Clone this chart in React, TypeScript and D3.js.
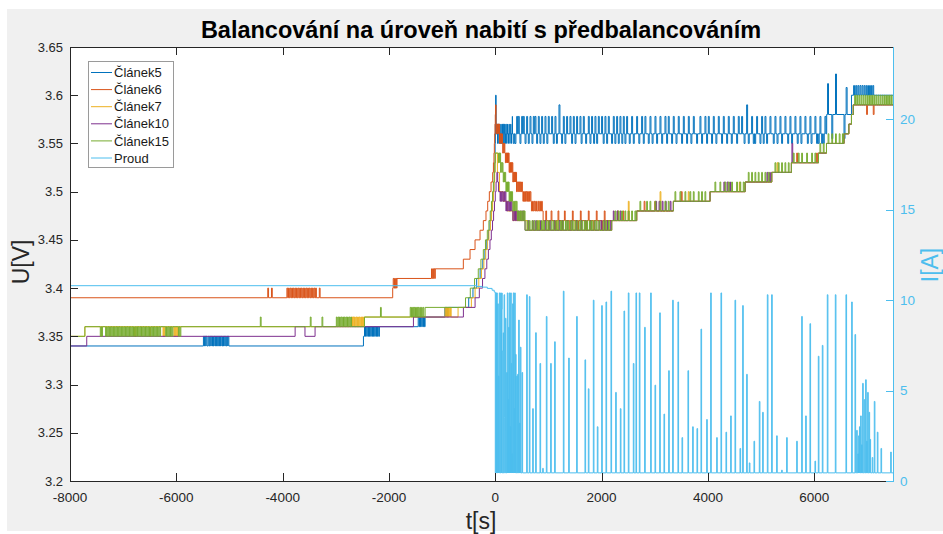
import React from "react"
import * as d3 from "d3"

type Pt = [number, number]
type Group = { v: number; t: number[] }

// ---------- data ----------
const seriesNames = ["Článek5", "Článek6", "Článek7", "Článek10", "Článek15", "Proud"]
const seriesColors = ["#0072BD", "#D95319", "#EDB120", "#7E2F8E", "#77AC30", "#4DBEEE"]

const xTicks = [-8000, -6000, -4000, -2000, 0, 2000, 4000, 6000]
const uTicks = [3.2, 3.25, 3.3, 3.35, 3.4, 3.45, 3.5, 3.55, 3.6, 3.65]
const iTicks = [0, 5, 10, 15, 20]

// Článek5 - base levels [t, U]
const c5Steps: Pt[] = [
  [-8000, 3.34], [-2480, 3.35], [-2180, 3.36], [-1320, 3.37], [-880, 3.38], [-500, 3.39], [-420, 3.40],
  [-350, 3.41], [-285, 3.42], [-235, 3.43], [-195, 3.44], [-160, 3.45], [-128, 3.46], [-100, 3.47],
  [-77, 3.48], [-57, 3.49], [-40, 3.50], [-27, 3.51], [-16, 3.52], [-8, 3.53], [-3, 3.55], [2, 3.57],
  [6, 3.60], [16, 3.56], [6234, 3.58], [6700, 3.60], [7500, 3.60],
]
// short excursions: level v reached at times t
const c5Spikes: Group[] = [
  { v: 3.35, t: [-5490, -5465, -5440, -5400, -5370, -5345, -5320, -5290, -5265, -5240, -5210, -5185, -5160, -5130, -5105, -5080, -5050, -5030] },
  { v: 3.36, t: [-2460, -2435, -2410, -2385, -2360, -2335, -2310, -2285, -2260, -2235, -2210] },
  { v: 3.37, t: [-1450, -1425, -1400, -1375, -1350] },
  { v: 3.38, t: [-950, -925, -900] },
  { v: 3.57, t: [30, 55, 80, 105, 130, 150, 175, 200, 230, 260, 290] },
  { v: 3.55, t: [42, 67, 92, 118, 140, 163, 188, 215, 245, 275, 305, 339, 370, 464, 560, 621, 690, 778, 840, 903, 970, 1091, 1150, 1248, 1310, 1436, 1500, 1615, 1700, 1781, 1850, 1907, 2030, 2095, 2188, 2250, 2314, 2380, 2439, 2520, 2596, 2700, 2784, 2878, 2950, 3035, 3130, 3223, 3317, 3400, 3505, 3599, 3680, 3787, 3881, 3975, 4069, 4150, 4257, 4352, 4440, 4540, 4680, 4759, 4853, 4880, 4979, 5040, 5104, 5229, 5300, 5386, 5500, 5574, 5680, 5750, 5870, 5940, 6044, 6075, 6139, 6170] },
  { v: 3.578, t: [320, 402, 433, 496, 527, 590, 653, 715, 747, 809, 872, 935, 997, 1060, 1123, 1280, 1342, 1405, 1468, 1530, 1593, 1656, 1750, 1812, 1875, 1938, 2000, 2063, 2126, 2220, 2283, 2345, 2408, 2471, 2565, 2659, 2753, 2815, 2910, 3004, 3098, 3192, 3254, 3348, 3442, 3537, 3631, 3725, 3850, 3944, 4007, 4101, 4195, 4289, 4383, 4477, 4571, 4634, 4822, 4916, 5010, 5073, 5167, 5261, 5355, 5449, 5543, 5637, 5731, 5825, 5919, 6013, 6107, 6201] },
  { v: 3.59, t: [1198, 4728] },
  { v: 3.612, t: [6250] },
  { v: 3.622, t: [6400] },
  { v: 3.608, t: [6600] },
  { v: 3.555, t: [6330, 6560] },
  { v: 3.61, t: [6740, 6780, 6820, 6860, 6900, 6940, 6980, 7020, 7060, 7100] },
]

// Článek6
const c6Steps: Pt[] = [
  [-8000, 3.39], [-1930, 3.40], [-1850, 3.41], [-1130, 3.42], [-601, 3.43], [-475, 3.44], [-381, 3.45],
  [-287, 3.46], [-225, 3.47], [-175, 3.48], [-143, 3.49], [-112, 3.50], [-80, 3.51], [-49, 3.52],
  [-35, 3.53], [-25, 3.54], [-18, 3.55], [-12, 3.56], [-6, 3.57], [0, 3.58], [5, 3.59], [15, 3.56],
  [80, 3.55], [140, 3.54], [190, 3.53], [260, 3.52], [330, 3.51], [400, 3.50], [520, 3.49], [680, 3.48],
  [900, 3.47], [2660, 3.48], [3350, 3.49], [4040, 3.50], [4700, 3.51], [5200, 3.52], [5570, 3.53],
  [6080, 3.54], [6230, 3.55], [6560, 3.56], [6650, 3.57], [6700, 3.58], [6734, 3.59], [7500, 3.59],
]
const c6Spikes: Group[] = [
  { v: 3.40, t: [-4280, -4210, -3920, -3890, -3860, -3830, -3800, -3770, -3740, -3710, -3680, -3650, -3620, -3590, -3560, -3530, -3500, -3470, -3440, -3410, -3380, -3310] },
  { v: 3.41, t: [-1920, -1895, -1870] },
  { v: 3.42, t: [-1200, -1175, -1150] },
  { v: 3.57, t: [25, 50, 65] },
  { v: 3.56, t: [90, 105, 118, 130] },
  { v: 3.55, t: [150, 165, 178] },
  { v: 3.54, t: [200, 215, 230, 245, 5670, 6044] },
  { v: 3.53, t: [270, 285, 300, 315] },
  { v: 3.52, t: [340, 355, 370, 385] },
  { v: 3.51, t: [410, 430, 450, 470, 495] },
  { v: 3.50, t: [530, 555, 580, 605, 630, 655, 3500] },
  { v: 3.49, t: [700, 730, 760, 800, 835, 870, 2800, 3000] },
  { v: 3.48, t: [950, 1050, 1180, 1300, 1450, 1600, 1750, 1900, 2050, 2300, 2400, 2500] },
  { v: 3.46, t: [1000, 1120, 1250, 1400, 1550, 1700, 1850, 2000] },
  { v: 3.58, t: [6985, 7110] },
]

// Článek7
const c7Steps: Pt[] = [
  [-8000, 3.35], [-7720, 3.36], [-2460, 3.37], [-700, 3.38], [-450, 3.39], [-380, 3.40], [-310, 3.41],
  [-260, 3.42], [-215, 3.43], [-180, 3.44], [-150, 3.45], [-120, 3.46], [-92, 3.47], [-70, 3.48],
  [-50, 3.49], [-35, 3.50], [-22, 3.51], [-12, 3.52], [-4, 3.53], [3, 3.54], [40, 3.52], [80, 3.50],
  [150, 3.49], [230, 3.48], [330, 3.47], [600, 3.46], [2190, 3.47], [2660, 3.48], [3350, 3.49],
  [4040, 3.50], [4700, 3.51], [5200, 3.52], [5570, 3.53], [6080, 3.54], [6230, 3.55], [6560, 3.56],
  [6650, 3.57], [6700, 3.58], [6734, 3.59], [7500, 3.59],
]
const c7Spikes: Group[] = [
  { v: 3.35, t: [-6800, -6775, -6500, -6250, -6230, -6045, -6020, -5990] },
  { v: 3.37, t: [-2700, -2675, -2650, -2620, -2590, -2560, -2530, -2500, -2475] },
  { v: 3.38, t: [-945, -920, -895, -870, -845] },
  { v: 3.49, t: [170, 200, 2502] },
  { v: 3.48, t: [350, 390] },
  { v: 3.47, t: [800, 1150, 1500, 1850, 2060] },
  { v: 3.50, t: [3100, 3630] },
  { v: 3.51, t: [4590] },
  { v: 3.53, t: [5300] },
]

// Článek10
const c10Steps: Pt[] = [
  [-8000, 3.34], [-7685, 3.35], [-3765, 3.36], [-3580, 3.35], [-3390, 3.36], [-1540, 3.37], [-600, 3.38],
  [-380, 3.39], [-300, 3.40], [-240, 3.41], [-195, 3.42], [-160, 3.43], [-130, 3.44], [-100, 3.45],
  [-75, 3.46], [-52, 3.47], [-32, 3.48], [-15, 3.49], [0, 3.50], [15, 3.51], [30, 3.52], [45, 3.51],
  [60, 3.50], [90, 3.49], [200, 3.48], [330, 3.47], [560, 3.46], [2190, 3.47], [2660, 3.48],
  [3350, 3.49], [4040, 3.50], [4700, 3.51], [5200, 3.52], [5570, 3.53], [6080, 3.54], [6230, 3.55],
  [6560, 3.56], [6650, 3.57], [6700, 3.58], [6734, 3.59], [7500, 3.59],
]
const c10Spikes: Group[] = [
  { v: 3.50, t: [100, 130, 160, 185] },
  { v: 3.49, t: [210, 240, 270, 300, 3020, 3080, 3140, 3200, 3290] },
  { v: 3.48, t: [350, 380, 420, 460, 500, 530, 2220, 2290, 2350] },
  { v: 3.47, t: [620, 700, 760, 850, 940, 1020, 1110, 1200, 1260, 1350, 1440, 1520, 1610, 1690, 1780, 1860, 1950, 1990, 2050, 2110, 2170] },
  { v: 3.51, t: [4300, 4360, 4410] },
  { v: 3.52, t: [5110, 5160] },
  { v: 3.55, t: [5580] },
]

// Článek15
const c15Steps: Pt[] = [
  [-8000, 3.35], [-7720, 3.36], [-2460, 3.37], [-1320, 3.38], [-560, 3.39], [-470, 3.40], [-390, 3.41],
  [-320, 3.42], [-270, 3.43], [-225, 3.44], [-185, 3.45], [-150, 3.46], [-120, 3.47], [-95, 3.48],
  [-72, 3.49], [-52, 3.50], [-36, 3.51], [-22, 3.52], [-10, 3.53], [0, 3.54], [60, 3.53], [100, 3.52],
  [150, 3.51], [200, 3.50], [260, 3.49], [330, 3.48], [420, 3.47], [560, 3.46], [2190, 3.47],
  [2660, 3.48], [3350, 3.49], [4040, 3.50], [4700, 3.51], [5200, 3.52], [5570, 3.53], [6080, 3.54],
  [6230, 3.55], [6560, 3.56], [6650, 3.57], [6700, 3.58], [6734, 3.59], [7500, 3.59],
]
const c15Spikes: Group[] = [
  { v: 3.35, t: [-7430, -7405, -7330, -7300, -7270, -7240, -7210, -7180, -7150, -7120, -7090, -7060, -7030, -7000, -6970, -6940, -6910, -6880, -6850, -6820, -6790, -6760, -6730, -6700, -6670, -6640, -6610, -6580, -6550, -6520, -6490, -6460, -6430, -6400, -6370, -6340, -6310, -6200, -6170, -6140, -6110, -6080, -5960, -5930] },
  { v: 3.37, t: [-4420, -3480, -3260, -2990, -2960, -2930, -2900, -2870, -2840, -2810, -2780, -2750, -2720] },
  { v: 3.38, t: [-2160, -1600, -1575, -1550, -1525, -1500, -1475, -1450, -1420, -1390, -1360] },
  { v: 3.54, t: [70, 85] },
  { v: 3.53, t: [110, 130] },
  { v: 3.52, t: [160, 180] },
  { v: 3.51, t: [210, 230, 245] },
  { v: 3.50, t: [270, 290, 310] },
  { v: 3.49, t: [345, 370, 395] },
  { v: 3.48, t: [430, 460, 490, 520, 545, 2251, 2314, 2377, 2439, 2502, 2565, 2627] },
  { v: 3.47, t: [600, 640, 690, 730, 780, 820, 870, 910, 960, 1000, 1050, 1090, 1140, 1180, 1230, 1270, 1320, 1360, 1410, 1450, 1500, 1540, 1590, 1630, 1680, 1720, 1770, 1810, 1860, 1900, 1950, 2030, 2080, 2130] },
  { v: 3.49, t: [2721, 2847, 2910, 3004, 3098, 3192, 3254] },
  { v: 3.50, t: [3380, 3474, 3568, 3662, 3725, 3819, 3881, 3944] },
  { v: 3.51, t: [4132, 4226, 4320, 4383, 4446, 4540, 4602, 4665] },
  { v: 3.52, t: [4759, 4822, 4885, 4947, 5010, 5073, 5136] },
  { v: 3.53, t: [5261, 5324, 5386, 5449, 5512] },
  { v: 3.54, t: [5606, 5700, 5763, 5857, 5951, 6013] },
  { v: 3.55, t: [6107, 6170] },
  { v: 3.56, t: [6260, 6330, 6400, 6470, 6530] },
  { v: 3.60, t: [6760, 6800, 6840, 6880, 6920, 6960, 7000, 7040, 7080, 7120, 7160, 7200, 7240, 7280, 7320, 7360, 7400, 7440, 7480] },
]

// Proud - base [t, I] and pulses [t, I]
const proudSteps: Pt[] = [
  [-8000, 10.8], [-350, 10.76], [-250, 10.72], [-150, 10.65], [-60, 10.55], [-20, 10.45], [0, 0.45], [7500, 0.45],
]
const proudPulses: Pt[] = [
  [10, 10.4], [26, 10.4], [45, 9.8], [57, 5.8], [76, 10.4], [101, 10.4], [115, 9.5], [126, 10.4], [140, 7.2],
  [151, 8.2], [165, 10.3], [176, 3.5], [190, 9.0], [201, 2.8], [214, 6.0], [226, 10.4], [240, 4.5], [252, 8.5],
  [264, 10.4], [277, 3.0], [289, 10.4], [301, 6.5], [314, 1.5], [326, 9.8], [339, 10.4], [352, 4.0], [364, 10.4],
  [380, 7.0], [402, 5.8], [421, 5.9], [439, 8.9], [455, 3.2], [471, 7.4], [502, 6.0],
  [590, 10.3], [640, 10.2], [703, 4.0], [759, 8.2], [841, 6.5], [891, 0.7], [960, 9.1], [1041, 6.5], [1116, 7.7],
  [1280, 10.5], [1380, 6.8], [1530, 9.1], [1687, 6.7], [1750, 5.1], [1844, 10.0], [1919, 3.0], [2001, 9.7],
  [2082, 9.9], [2176, 10.5], [2264, 4.9], [2352, 4.0], [2421, 9.4], [2502, 10.4], [2596, 6.5], [2646, 10.4],
  [2709, 10.4], [2809, 8.5], [2922, 10.4], [3004, 5.3], [3092, 9.3], [3173, 3.7], [3261, 6.1], [3336, 10.0],
  [3436, 9.9], [3512, 2.4], [3624, 6.1], [3712, 3.0], [3794, 2.9], [3869, 8.4], [3976, 3.4], [4051, 10.4],
  [4164, 2.4], [4245, 10.4], [4339, 2.7], [4427, 3.6], [4509, 10.0], [4603, 1.8], [4653, 9.7], [4728, 5.9],
  [4778, 1.0], [4866, 2.2], [4966, 4.4], [5029, 3.8], [5117, 10.3], [5198, 10.3], [5292, 2.5], [5386, 0.6],
  [5480, 2.4], [5669, 2.2], [5763, 9.1], [5838, 3.6], [5919, 8.7], [6013, 1.1], [6076, 6.9], [6151, 7.5],
  [6245, 10.3], [6396, 10.3], [6596, 10.3], [6703, 9.9], [6766, 8.1], [6797, 2.8], [6820, 1.5], [6835, 2.5],
  [6850, 3.0], [6872, 3.6], [6890, 2.0], [6910, 5.4], [6940, 4.5], [6966, 5.6], [6985, 2.2], [7004, 4.9],
  [7030, 3.8], [7048, 2.3], [7090, 1.3], [7129, 4.4], [7186, 2.7], [7255, 1.8], [7437, 1.6],
]

// ---------- helpers ----------
const levelAt = (steps: Pt[], t: number) => {
  let v = steps[0][1]
  for (const s of steps) {
    if (s[0] <= t) v = s[1]
    else break
  }
  return v
}

// base step line + short excursions that fall back to the base level
const buildSeries = (steps: Pt[], pulses: Pt[], w: number): Pt[] => {
  const pts: Pt[] = steps.map(s => [s[0], s[1]] as Pt)
  pulses.forEach(([t, v]) => {
    pts.push([t, v])
    pts.push([t + w, levelAt(steps, t + w)])
  })
  pts.sort((a, b) => a[0] - b[0])
  return pts
}

const flatten = (groups: Group[]): Pt[] => groups.flatMap(g => g.t.map(t => [t, g.v] as Pt))

const width = 943
const height = 534
const plot = { left: 70, right: 894, top: 47, bottom: 481 }
const font = "'Liberation Sans', Arial, Helvetica, sans-serif"
const axisColor = "#262626"

const App = () => {
  const x = d3.scaleLinear().domain([-8000, 7500]).range([plot.left, plot.right])
  const yU = d3.scaleLinear().domain([3.2, 3.65]).range([plot.bottom, plot.top])
  const yI = d3.scaleLinear().domain([0, 24]).range([plot.bottom, plot.top])

  const lineU = d3.line<Pt>().x(d => x(d[0])).y(d => yU(d[1])).curve(d3.curveStepAfter)
  const lineI = d3.line<Pt>().x(d => x(d[0])).y(d => yI(d[1])).curve(d3.curveStepAfter)

  const cells = [
    buildSeries(c5Steps, flatten(c5Spikes), 18),
    buildSeries(c6Steps, flatten(c6Spikes), 15),
    buildSeries(c7Steps, flatten(c7Spikes), 15),
    buildSeries(c10Steps, flatten(c10Spikes), 15),
    buildSeries(c15Steps, flatten(c15Spikes), 15),
  ]
  const proud = buildSeries(proudSteps, proudPulses, 12)

  const tick = 8

  return (
    <svg width={width} height={height} style={{ position: "absolute", left: 0, top: 0 }} fontFamily={font}>
      <defs>
        <clipPath id="plotclip">
          <rect x={plot.left} y={plot.top} width={plot.right - plot.left} height={plot.bottom - plot.top} />
        </clipPath>
      </defs>
      <rect x={0} y={0} width={width} height={height} fill="#ffffff" />
      <rect x={7} y={9} width={width - 7} height={522} fill="#f0f0f0" />
      <rect x={plot.left} y={plot.top} width={plot.right - plot.left} height={plot.bottom - plot.top} fill="#ffffff" />

      <g clipPath="url(#plotclip)" fill="none" strokeWidth={1}>
        {cells.map((d, i) => (
          <path key={seriesNames[i]} d={lineU(d) || ""} stroke={seriesColors[i]} />
        ))}
        <path d={lineI(proud) || ""} stroke={seriesColors[5]} />
      </g>

      {/* box + left/bottom axes */}
      <line x1={plot.left} x2={plot.right} y1={plot.bottom + 0.5} y2={plot.bottom + 0.5} stroke={axisColor} />
      <line x1={plot.left} x2={plot.right} y1={plot.top + 0.5} y2={plot.top + 0.5} stroke={axisColor} />
      <line x1={plot.left + 0.5} x2={plot.left + 0.5} y1={plot.top} y2={plot.bottom} stroke={axisColor} />
      <line x1={plot.right - 0.5} x2={plot.right - 0.5} y1={plot.top} y2={plot.bottom + 1} stroke={seriesColors[5]} />

      {xTicks.map(t => (
        <g key={"x" + t}>
          <line x1={Math.round(x(t)) + 0.5} x2={Math.round(x(t)) + 0.5} y1={plot.bottom} y2={plot.bottom - tick} stroke={axisColor} />
          <line x1={Math.round(x(t)) + 0.5} x2={Math.round(x(t)) + 0.5} y1={plot.top} y2={plot.top + tick} stroke={axisColor} />
          <text x={x(t)} y={502} textAnchor="middle" fontSize={13.5} fill={axisColor}>{t}</text>
        </g>
      ))}

      {uTicks.map(v => (
        <g key={"u" + v}>
          <line x1={plot.left} x2={plot.left + tick} y1={Math.round(yU(v)) + 0.5} y2={Math.round(yU(v)) + 0.5} stroke={axisColor} />
          <text x={63} y={yU(v)} dy="0.35em" textAnchor="end" fontSize={13} fill={axisColor}>{v}</text>
        </g>
      ))}

      {iTicks.map(v => (
        <g key={"i" + v}>
          <line x1={plot.right} x2={plot.right - tick} y1={Math.round(yI(v)) + 0.5} y2={Math.round(yI(v)) + 0.5} stroke={seriesColors[5]} />
          <text x={900} y={yI(v)} dy="0.35em" textAnchor="start" fontSize={13.5} fill={seriesColors[5]}>{v}</text>
        </g>
      ))}

      <text x={481} y={38} textAnchor="middle" fontSize={23.5} fontWeight="bold" fill="#000">
        Balancování na úroveň nabití s předbalancováním
      </text>
      <text x={481} y={529} textAnchor="middle" fontSize={23} fill={axisColor}>t[s]</text>
      <text transform="translate(29,262) rotate(-90)" textAnchor="middle" fontSize={23} fill={axisColor}>U[V]</text>
      <text transform="translate(938,265) rotate(-90)" textAnchor="middle" fontSize={23} fill={seriesColors[5]}>I[A]</text>

      {/* legend */}
      <g>
        <rect x={88.5} y={61.5} width={85} height={106} fill="#ffffff" stroke="#9a9a9a" />
        {seriesNames.map((n, i) => {
          const ly = 72.5 + i * 17.1
          return (
            <g key={n}>
              <line x1={91} x2={112} y1={ly} y2={ly} stroke={seriesColors[i]} strokeWidth={1} />
              <text x={114} y={ly} dy="0.36em" fontSize={13} fill="#1a1a1a">{n}</text>
            </g>
          )
        })}
      </g>
    </svg>
  )
}

export default App
